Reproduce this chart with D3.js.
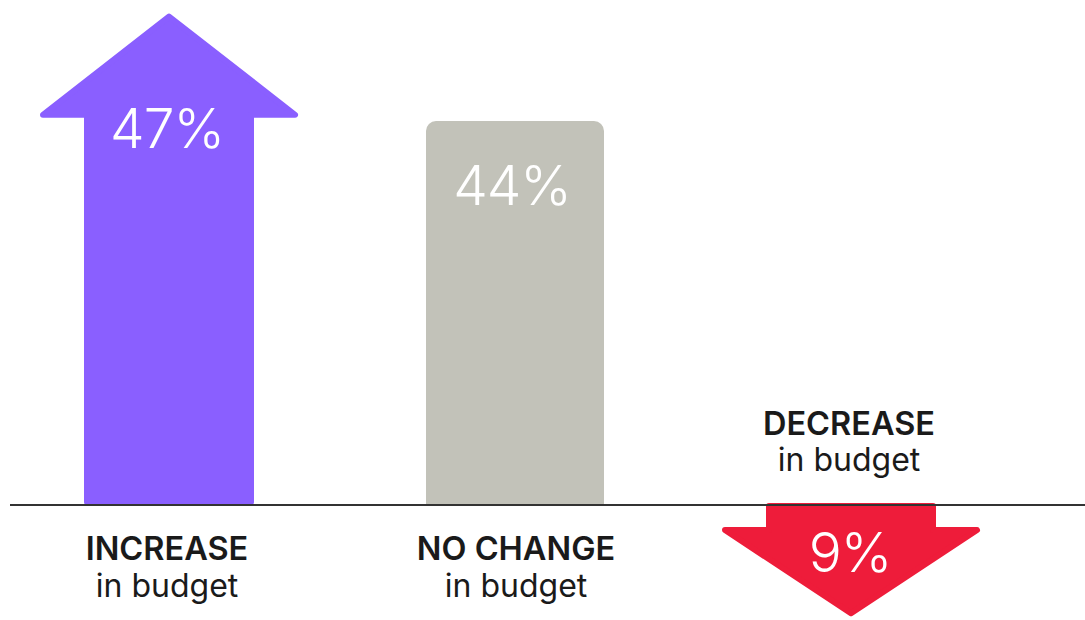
<!DOCTYPE html>
<html>
<head>
<meta charset="utf-8">
<script src="https://cdn.jsdelivr.net/npm/d3@7"></script>
<style>
  html, body { margin: 0; padding: 0; background: #ffffff; }
  svg { display: block; }
</style>
</head>
<body>
<svg id="chart" width="1085" height="620"></svg>
<script>
// ---- data ----
const categories = ["INCREASE", "NO CHANGE", "DECREASE"];
const subLabels = ["in budget", "in budget", "in budget"];
const values = [47, 44, -9];
const valueLabels = ["47%", "44%", "9%"];
const shapes = ["arrowUp", "bar", "arrowDown"];
const colors = ["#8a5fff", "#c2c2b9", "#ee1c3a"];

// ---- layout ----
const W = 1085, H = 620;
const baseY = 505;
const svg = d3.select("#chart");

const x = d3.scalePoint().domain(categories).range([169, 851]);
const y = d3.scaleLinear().domain([0, 44]).range([baseY, 121]);

const shaftW = 170, barW = 178, headW = 258;
const rows = categories.map((c, i) => ({
  cat: c, sub: subLabels[i], v: values[i], label: valueLabels[i], shape: shapes[i], color: colors[i]
}));

function upArrow(cx, tipY, headH) {
  const r = 3; // inset for rounded stroke
  const hs = shaftW / 2 - r, hh = headW / 2 - r;
  const headBase = tipY + headH;
  const p = d3.path();
  p.moveTo(cx - hs, baseY - r);
  p.lineTo(cx - hs, headBase - r);
  p.lineTo(cx - hh, headBase - r);
  p.lineTo(cx, tipY + r * 1.6);
  p.lineTo(cx + hh, headBase - r);
  p.lineTo(cx + hs, headBase - r);
  p.lineTo(cx + hs, baseY - r);
  p.closePath();
  return p.toString();
}
function downArrow(cx, tipY, headH) {
  const r = 3;
  const hs = shaftW / 2 - r, hh = headW / 2 - r;
  const headBase = tipY - headH;
  const p = d3.path();
  p.moveTo(cx - hs, baseY + 1);
  p.lineTo(cx - hs, headBase + r);
  p.lineTo(cx - hh, headBase + r);
  p.lineTo(cx, tipY - r * 1.6);
  p.lineTo(cx + hh, headBase + r);
  p.lineTo(cx + hs, headBase + r);
  p.lineTo(cx + hs, baseY + 1);
  p.closePath();
  return p.toString();
}
function topRoundedBar(cx, topY, w, rad) {
  const l = cx - w / 2, rt = cx + w / 2;
  const p = d3.path();
  p.moveTo(l, baseY);
  p.lineTo(l, topY + rad);
  p.arcTo(l, topY, l + rad, topY, rad);
  p.lineTo(rt - rad, topY);
  p.arcTo(rt, topY, rt, topY + rad, rad);
  p.lineTo(rt, baseY);
  p.closePath();
  return p.toString();
}

const g = svg.append("g");

rows.forEach(d => {
  const cx = x(d.cat);
  if (d.shape === "arrowUp") {
    const tip = y(d.v) - 83;
    g.append("path").attr("d", upArrow(cx, tip, 106))
      .attr("fill", d.color).attr("stroke", d.color)
      .attr("stroke-width", 6).attr("stroke-linejoin", "round");
    g.append("text").attr("x", cx - 2).attr("y", tip + 136)
      .attr("class", "val").text(d.label);
  } else if (d.shape === "bar") {
    const cxb = cx + 5;
    g.append("path").attr("d", topRoundedBar(cxb, y(d.v), barW, 10)).attr("fill", d.color);
    g.append("text").attr("x", cxb - 3).attr("y", y(d.v) + 84)
      .attr("class", "val").text(d.label);
  } else {
    const tip = y(d.v) + 34.5;
    g.append("path").attr("d", downArrow(cx, tip, 91))
      .attr("fill", d.color).attr("stroke", d.color)
      .attr("stroke-width", 6).attr("stroke-linejoin", "round");
    g.append("text").attr("x", cx - 1).attr("y", baseY + 67)
      .attr("class", "val").text(d.label);
  }
});

g.selectAll("text.val")
  .attr("text-anchor", "middle")
  .attr("fill", "#ffffff")
  .attr("font-family", "Inter, 'Noto Sans', sans-serif")
  .attr("font-weight", 300)
  .attr("font-size", 55)
  .attr("letter-spacing", -1);

// baseline
svg.append("line")
  .attr("x1", 10).attr("x2", W)
  .attr("y1", baseY).attr("y2", baseY)
  .attr("stroke", "#333333").attr("stroke-width", 2);

// category labels
rows.forEach(d => {
  const cx = d.shape === "bar" ? x(d.cat) + 6 : x(d.cat) - 2;
  const above = d.v < 0;
  const y1 = above ? 435 : 560;
  const y2 = above ? 471 : 597;
  const t = svg.append("g")
    .attr("font-family", "Inter, 'Noto Sans', sans-serif")
    .attr("fill", "#1a1a1a")
    .attr("text-anchor", "middle");
  t.append("text").attr("x", cx).attr("y", y1)
    .attr("font-size", 32.5).attr("font-weight", 600)
    .attr("letter-spacing", 0)
    .text(d.cat);
  t.append("text").attr("x", cx).attr("y", y2)
    .attr("font-size", 32).attr("font-weight", 400)
    .attr("letter-spacing", 0)
    .text(d.sub);
});
</script>
</body>
</html>
